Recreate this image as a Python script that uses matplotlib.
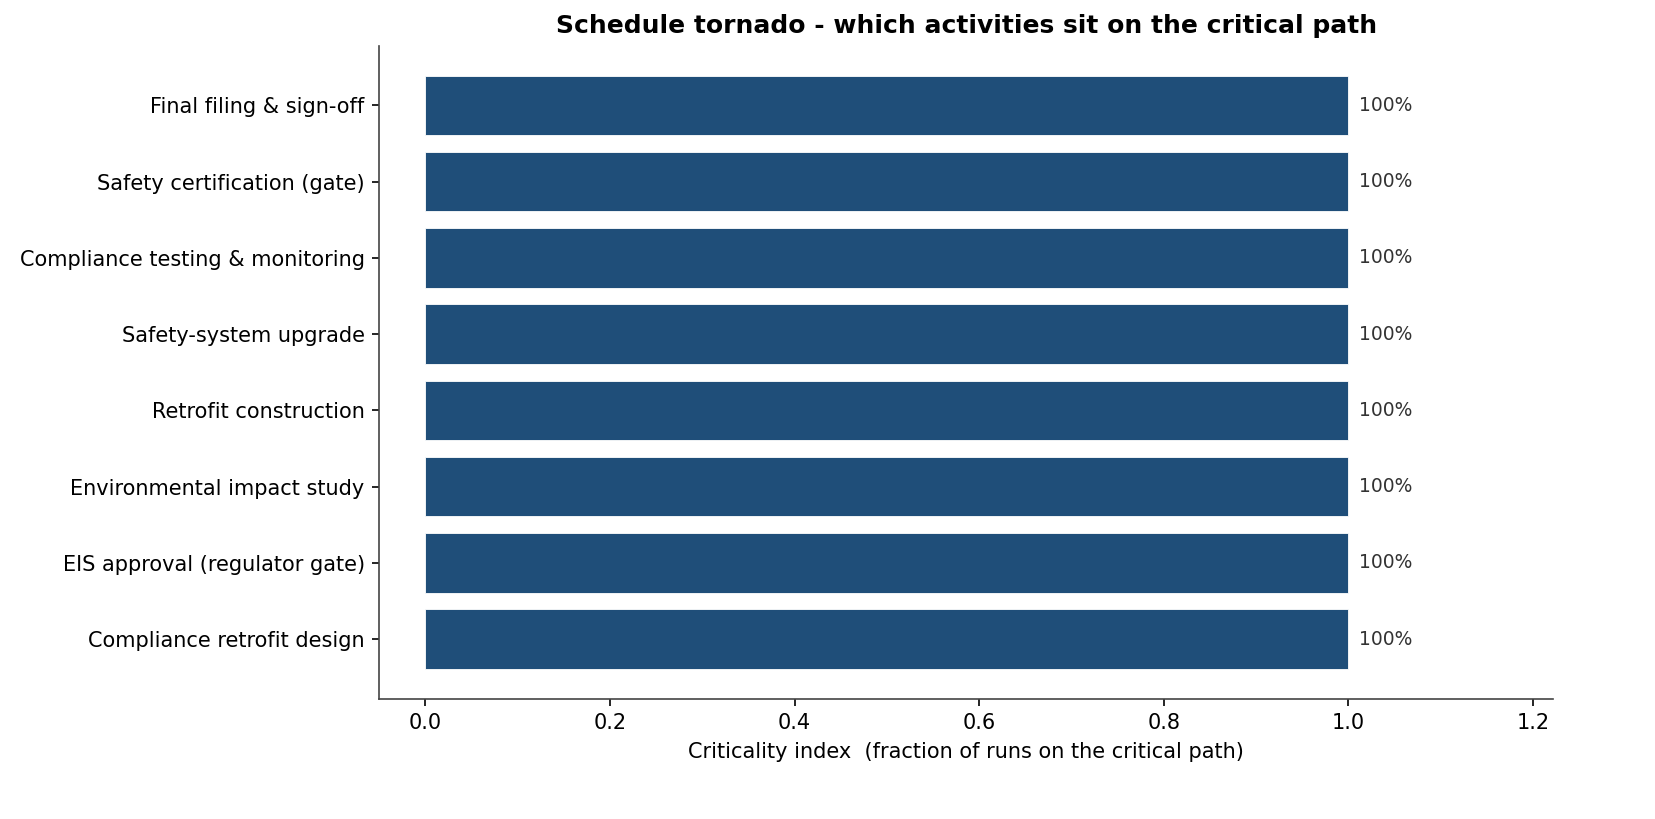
import matplotlib
matplotlib.use("Agg")
import matplotlib.pyplot as plt

# activities, bottom to top
activities = [
    'Compliance retrofit design',
    'EIS approval (regulator gate)',
    'Environmental impact study',
    'Retrofit construction',
    'Safety-system upgrade',
    'Compliance testing & monitoring',
    'Safety certification (gate)',
    'Final filing & sign-off',
]
criticality = [1.0, 1.0, 1.0, 1.0, 1.0, 1.0, 1.0, 1.0]

fig, ax = plt.subplots(figsize=(11.04, 5.46), dpi=150)
fig.subplots_adjust(left=0.229, right=0.938, bottom=0.147, top=0.944)

ax.barh(activities, criticality, height=0.78, color='#1f4e79',
        edgecolor='white', linewidth=0.4)
for i, v in enumerate(criticality):
    ax.text(v + 0.011, i, f'{v:.0%}', va='center', ha='left', fontsize=9, color='#333333')

ax.set_xlim(-0.05, 1.222)
ax.set_xlabel('Criticality index  (fraction of runs on the critical path)', fontsize=10)
ax.set_title('Schedule tornado - which activities sit on the critical path',
             fontsize=12, fontweight='bold')
ax.tick_params(labelsize=10)
for s in ['top', 'right']:
    ax.spines[s].set_visible(False)
for s in ['left', 'bottom']:
    ax.spines[s].set_color('#444444')

fig.savefig('out.png', dpi=150)
